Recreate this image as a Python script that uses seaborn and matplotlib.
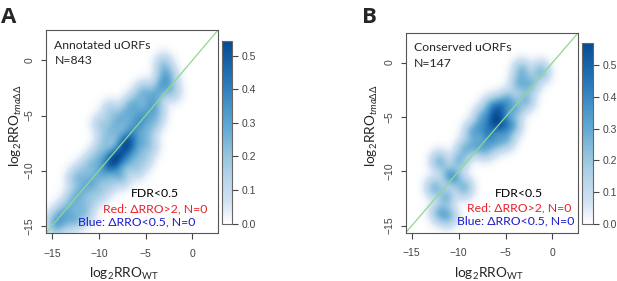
import numpy as np
import matplotlib
matplotlib.use("Agg")
import matplotlib.pyplot as plt
from matplotlib.colors import LinearSegmentedColormap
import seaborn as sns

# point positions (log2 RRO, WT vs tma)
a_wt = [-9.0, -8.5, -8.2, -8.0, -7.6, -7.2, -7.0, -6.8, -8.8, -9.4, -9.8, -7.5, -6.5, -6.2,
        -5.8, -5.5, -5.2, -4.8, -4.5, -4.2, -3.8, -3.5, -3.2, -3.0, -3.1, -2.8, -2.5, -2.2,
        -8.4, -8.1, -7.8, -7.3, -8.6, -9.2, -7.0, -6.6,
        -10.4, -10.8, -11.3, -11.8, -12.3, -12.8, -13.2, -13.7, -14.2, -14.7, -14.8, -14.0, -13.0,
        -10.0, -10.5, -11.2, -12.0, -12.6, -9.5, -9.0, -8.5, -8.0, -7.5, -7.0, -6.5, -9.8, -8.8,
        -6.0, -5.5, -5.0, -7.8, -6.8, -6.0,
        -7.0, -6.5, -6.0, -5.5, -5.0, -4.5, -6.0, -5.2, -4.6, -8.0, -7.5, -9.0, -10.0, -11.0,
        -12.0, -12.5, -11.5, -4.0, -3.8]
a_tma = [-9.5, -9.0, -9.4, -8.5, -8.0, -7.6, -7.2, -7.8, -8.6, -9.9, -10.2, -8.8, -6.8, -6.2,
         -5.9, -5.4, -5.0, -4.5, -4.0, -3.5, -3.0, -2.5, -1.8, -1.0, -0.3, -2.2, -1.5, -2.8,
         -9.1, -8.8, -8.3, -7.9, -9.7, -9.2, -7.5, -7.0,
         -10.6, -11.2, -11.2, -11.8, -12.2, -12.6, -13.3, -13.8, -14.1, -14.6, -15.1, -14.9, -14.5,
         -8.5, -9.2, -9.6, -10.3, -10.8, -7.5, -6.8, -6.0, -5.5, -5.0, -4.5, -4.0, -5.8, -4.6,
         -3.8, -3.0, -2.8, -6.8, -5.8, -5.0,
         -9.2, -8.6, -8.0, -7.4, -6.8, -6.0, -9.8, -8.9, -7.8, -10.4, -10.6, -11.2, -12.0, -12.8,
         -13.4, -14.5, -14.0, -5.3, -4.5]

b_wt = [-3.3, -1.3, -3.6, -2.4, -5.9, -6.2, -5.6, -6.5, -5.3, -6.0, -5.0, -6.8,
        -9.3, -8.6, -7.5, -8.2, -7.0, -7.8,
        -12.1, -10.0, -11.1, -9.5, -12.6, -11.4, -12.1, -11.2, -10.5,
        -4.3, -4.0, -5.0, -6.1, -2.9, -4.7, -5.5, -6.6, -7.2]
b_tma = [-0.7, -0.8, -1.9, -1.9, -5.5, -5.0, -6.0, -5.4, -4.6, -4.3, -5.6, -6.2,
         -7.9, -6.4, -4.9, -7.6, -6.8, -5.9,
         -9.1, -9.0, -10.3, -11.5, -11.5, -12.4, -13.8, -14.1, -10.6,
         -5.8, -4.3, -7.0, -7.3, -3.4, -3.4, -3.8, -4.0, -7.9]

a_peak = 0.544
b_peak = 0.57
lims = (-15.65, 2.75)


def density(xs, ys, bw, peak, n=220):
    g = np.linspace(lims[0], lims[1], n)
    gx, gy = np.meshgrid(g, g)
    z = np.zeros_like(gx)
    for x, y in zip(xs, ys):
        z += np.exp(-((gx - x) ** 2 + (gy - y) ** 2) / (2 * bw ** 2))
    z = z ** 0.7
    return z / z.max() * peak


sns.set_style("ticks")
plt.rcParams["font.family"] = ["Lato", "DejaVu Sans"]
plt.rcParams["mathtext.fontset"] = "custom"
plt.rcParams["mathtext.rm"] = "Lato"
plt.rcParams["mathtext.it"] = "Lato:italic"

# white followed by the nine blues, like R's smoothScatter
cmap = LinearSegmentedColormap.from_list("wblues", ["#ffffff"] + sns.color_palette("Blues", 9)[1:])
fig = plt.figure(figsize=(6.17, 2.81), dpi=100)

panels = [
    dict(ax=[0.0746, 0.1708, 0.2788, 0.7224], cax=[0.3598, 0.2046, 0.0162, 0.6495],
         xs=a_wt, ys=a_tma, bw=0.6, peak=a_peak, title="Annotated uORFs", n="N=843",
         letter="A", lx=0.002, ylx=16, xlx=124, txt=[(-4.0, -4.0, -5.9), (-12.1, -13.5, -14.65)]),
    dict(ax=[0.6575, 0.1719, 0.2797, 0.7117], cax=[0.9433, 0.2028, 0.0178, 0.645],
         xs=b_wt, ys=b_tma, bw=0.6, peak=b_peak, title="Conserved uORFs", n="N=147",
         letter="B", lx=0.586, ylx=372, xlx=489, txt=[(-3.6, -3.6, -3.95), (-12.0, -13.4, -14.55)]),
]

for p in panels:
    ax = fig.add_axes(p["ax"])
    z = density(p["xs"], p["ys"], p["bw"], p["peak"])
    im = ax.imshow(z, origin="lower", extent=[lims[0], lims[1], lims[0], lims[1]],
                   cmap=cmap, vmin=0, vmax=p["peak"], aspect="auto", interpolation="bilinear")
    ax.plot(lims, lims, color="#8fd88f", lw=0.9)
    ax.set_xlim(lims)
    ax.set_ylim(lims)
    ax.set_xticks([-15, -10, -5, 0])
    ax.set_yticks([-15, -10, -5, 0])
    ax.tick_params(width=0.8, colors="#444444", labelsize=7.5)
    ax.tick_params(axis="x", length=4.3, pad=7)
    ax.tick_params(axis="y", length=3.6, pad=4.5)
    for lab in ax.get_xticklabels() + ax.get_yticklabels():
        lab.set_family("Liberation Sans")
    plt.setp(ax.get_yticklabels(), rotation=90, va="center")
    for s in ax.spines.values():
        s.set_color("#555555")
        s.set_linewidth(0.8)
    ax.text(-14.75, 1.35, p["title"], fontsize=8.8, va="center", ha="left")
    ax.text(-14.75, -0.05, p["n"], fontsize=8.8, va="center", ha="left")
    tx, ty = p["txt"]
    ax.text(tx[0], ty[0], "FDR<0.5", fontsize=8.8, ha="center", va="center", color="black")
    ax.text(tx[1], ty[1], "Red: ΔRRO>2, N=0", fontsize=8.8, ha="center", va="center", color="#e8202a")
    ax.text(tx[2], ty[2], "Blue: ΔRRO<0.5, N=0", fontsize=8.8, ha="center", va="center", color="#1a1acc")

    cax = fig.add_axes(p["cax"])
    cb = fig.colorbar(im, cax=cax, ticks=[0, 0.1, 0.2, 0.3, 0.4, 0.5], format="%.1f")
    cb.outline.set_edgecolor("#666666")
    cb.outline.set_linewidth(0.8)
    cax.tick_params(length=4, width=0.8, colors="#444444", labelsize=7.5, pad=3)
    for lab in cax.get_yticklabels():
        lab.set_family("Liberation Sans")

    fig.text(p["xlx"] / 617, 1 - 274 / 281, r"log$_\mathrm{2}$RRO$_\mathrm{WT}$",
             fontsize=9.8, ha="center", va="center")
    fig.text(p["ylx"] / 617, 1 - 126 / 281, r"log$_\mathrm{2}$RRO$_{tma\Delta\Delta}$",
             fontsize=9.8, ha="center", va="center", rotation=90)
    fig.text(p["lx"], 0.975, p["letter"], fontsize=16, fontweight="bold", ha="left", va="top",
             family="Open Sans")

fig.savefig("out.png", dpi=100)
